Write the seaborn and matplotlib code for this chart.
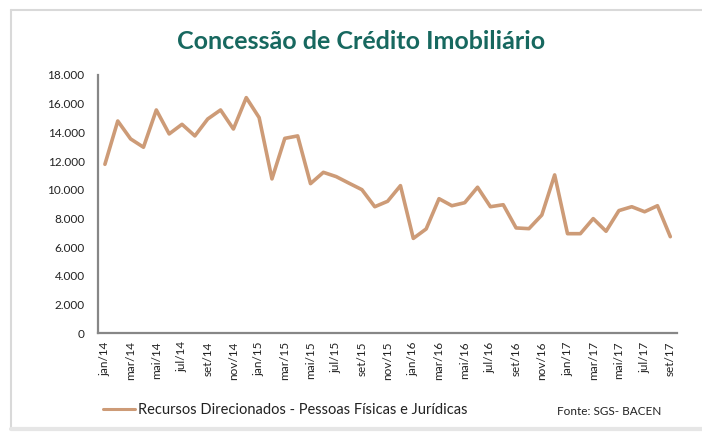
import pandas as pd
import matplotlib.pyplot as plt
import matplotlib.ticker as mticker
import seaborn as sns
from matplotlib.lines import Line2D

# Dados (mensais, jan/14 a set/17)
meses = ["jan", "fev", "mar", "abr", "mai", "jun",
         "jul", "ago", "set", "out", "nov", "dez"]
anos = ["14", "15", "16", "17"]
rotulos = [f"{m}/{a}" for a in anos for m in meses][:45]

valores = [
    11770, 14790, 13540, 12960, 15560, 13890, 14560, 13750, 14930, 15560, 14230, 16420,
    15030, 10750, 13580, 13750, 10420, 11210, 10910, 10450, 10000, 8810, 9190, 10280,
    6600, 7260, 9370, 8880, 9090, 10170, 8810, 8950, 7330, 7280, 8230, 11030,
    6930, 6930, 7980, 7100, 8540, 8810, 8460, 8880, 6720,
]
serie = "Recursos Direcionados - Pessoas Físicas e Jurídicas"

df = pd.DataFrame({"idx": range(len(valores)), "valor": valores, "serie": serie})

sns.set_theme(style="white")
plt.rcParams["font.family"] = ["Lato", "DejaVu Sans"]

fig = plt.figure(figsize=(7.02, 4.36), dpi=100)
ax = fig.add_axes([0.1403, 0.2362, 0.8237, 0.5918])

cor_linha = "#CD9B77"
sns.lineplot(data=df, x="idx", y="valor", color=cor_linha, linewidth=2.6,
             ax=ax, legend=False)

ax.set_xlim(-0.5, len(valores) - 0.5)
ax.set_ylim(0, 18000)
ax.yaxis.set_major_locator(mticker.MultipleLocator(2000))
ax.yaxis.set_major_formatter(
    mticker.FuncFormatter(lambda v, p: f"{v:,.0f}".replace(",", ".")))
ax.set_xticks(range(0, len(valores), 2))
ax.set_xticklabels(rotulos[::2], rotation=90, fontsize=8.5, color="#222222")
ax.tick_params(axis="y", labelsize=8.5, labelcolor="#222222", length=0, pad=10)
ax.tick_params(axis="x", length=0, pad=6)
ax.set_xlabel("")
ax.set_ylabel("")

for lado in ["top", "right"]:
    ax.spines[lado].set_visible(False)
for lado in ["left", "bottom"]:
    ax.spines[lado].set_color("#878787")
    ax.spines[lado].set_linewidth(1.6)

fig.text(0.515, 0.905, "Concessão de Crédito Imobiliário", ha="center",
         va="center", fontsize=18, fontweight="bold", color="#17685F")

handle = Line2D([], [], color=cor_linha, linewidth=2.2)
leg = fig.legend([handle], [serie], loc="center left",
                 bbox_to_anchor=(0.1467, 0.06), frameon=False, borderpad=0,
                 borderaxespad=0, fontsize=10.5, handlelength=2.2,
                 handletextpad=0.2)
for t in leg.get_texts():
    t.set_color("#222222")

fig.text(0.793, 0.056, "Fonte: SGS- BACEN", ha="left", va="center",
         fontsize=8.5, color="#222222")

# moldura cinza clara
fig.add_artist(Line2D([0.016, 0.016], [0.015, 0.977], color="#D9D9D9",
                      linewidth=1.5, transform=fig.transFigure))
fig.add_artist(Line2D([0.016, 1.0], [0.977, 0.977], color="#D9D9D9",
                      linewidth=1.5, transform=fig.transFigure))
fig.add_artist(Line2D([0.016, 1.0], [0.015, 0.015], color="#E6E6E6",
                      linewidth=3, transform=fig.transFigure))

fig.savefig("out.png", dpi=100)
plt.close(fig)
